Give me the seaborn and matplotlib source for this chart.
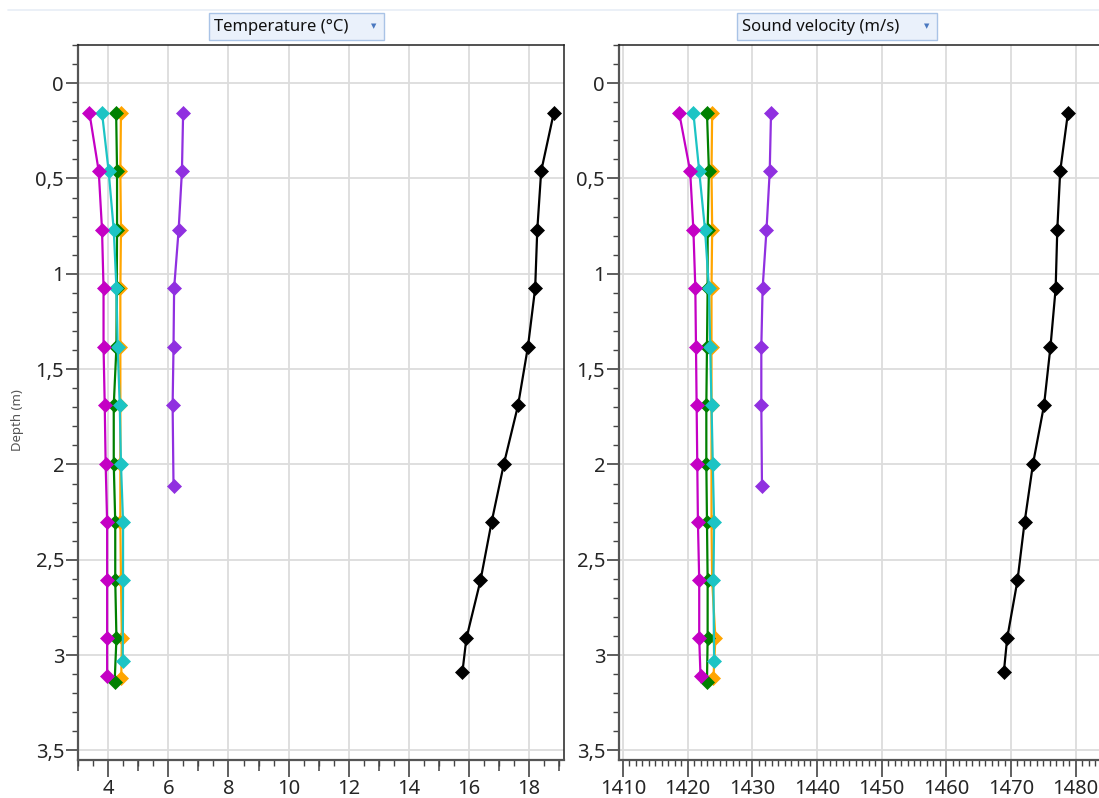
import numpy as np
import pandas as pd
import seaborn as sns
import matplotlib
matplotlib.use("Agg")
import matplotlib.pyplot as plt
from matplotlib.ticker import MultipleLocator, FixedLocator, FuncFormatter
from matplotlib.patches import Rectangle
from matplotlib.lines import Line2D

# ---- profile data -------------------------------------------------------
depth_std = [0.156, 0.462, 0.770, 1.076, 1.382, 1.690, 1.996, 2.302, 2.608, 2.912]

series_names = ["Profile E", "Profile D", "Profile C", "Profile B", "Profile A", "Profile F"]
series_colors = ["#ffa500", "#008000", "#1cc4c4", "#c400c4", "#9030e0", "#000000"]

depth_a = [0.156, 0.462, 0.770, 1.076, 1.382, 1.690, 2.114]
temp_a = [6.49, 6.45, 6.34, 6.19, 6.17, 6.14, 6.17]
sv_a = [1432.9, 1432.7, 1432.2, 1431.6, 1431.4, 1431.4, 1431.5]

depth_b = depth_std + [3.11]
temp_b = [3.37, 3.68, 3.79, 3.84, 3.84, 3.88, 3.91, 3.96, 3.96, 3.96, 3.96]
sv_b = [1418.7, 1420.4, 1420.9, 1421.2, 1421.3, 1421.4, 1421.5, 1421.6, 1421.8, 1421.8, 1422.0]

depth_c = depth_std[:9] + [3.03]
temp_c = [3.79, 4.01, 4.18, 4.27, 4.31, 4.38, 4.42, 4.49, 4.49, 4.48]
sv_c = [1420.9, 1421.8, 1422.7, 1423.3, 1423.5, 1423.7, 1423.9, 1424.1, 1424.0, 1424.1]

depth_d = depth_std + [3.14]
temp_d = [4.26, 4.29, 4.29, 4.28, 4.27, 4.18, 4.18, 4.23, 4.23, 4.27, 4.21]
sv_d = [1423.0, 1423.3, 1423.1, 1423.1, 1423.0, 1422.9, 1422.9, 1423.0, 1423.1, 1423.1, 1423.0]

depth_e = depth_std + [3.12]
temp_e = [4.42, 4.40, 4.42, 4.40, 4.40, 4.40, 4.40, 4.40, 4.42, 4.45, 4.43]
sv_e = [1423.8, 1423.7, 1423.8, 1423.7, 1423.7, 1423.7, 1423.7, 1423.7, 1423.8, 1424.3, 1424.0]

depth_f = depth_std + [3.086]
temp_f = [18.83, 18.41, 18.28, 18.21, 17.97, 17.64, 17.17, 16.76, 16.39, 15.92, 15.79]
sv_f = [1478.8, 1477.6, 1477.15, 1476.9, 1476.1, 1475.1, 1473.4, 1472.1, 1471.0, 1469.4, 1468.9]

# ---- long-form table ----------------------------------------------------
frames = []
for name, d, t, s in [
    ("Profile E", depth_e, temp_e, sv_e),
    ("Profile D", depth_d, temp_d, sv_d),
    ("Profile C", depth_c, temp_c, sv_c),
    ("Profile B", depth_b, temp_b, sv_b),
    ("Profile A", depth_a, temp_a, sv_a),
    ("Profile F", depth_f, temp_f, sv_f),
]:
    frames.append(pd.DataFrame({"profile": name, "depth": d, "temp": t, "sv": s}))
df = pd.concat(frames, ignore_index=True)

palette = dict(zip(series_names, series_colors))

sns.set_theme(style="white")
FONT = ["Noto Sans", "DejaVu Sans"]
plt.rcParams["font.family"] = FONT

W, H = 1099, 798
fig = plt.figure(figsize=(W / 100, H / 100), dpi=100)


def fx(px):
    return px / W


def fy(py):
    return 1 - py / H


ax1 = fig.add_axes([fx(78), fy(760), fx(564 - 78), (760 - 45) / H])
ax2 = fig.add_axes([fx(619), fy(760), fx(1099 - 619), (760 - 45) / H])


def depth_fmt(v, pos):
    s = f"{v:.1f}"
    if s.endswith(".0"):
        s = s[:-2]
    if s == "-0":
        s = "0"
    return s.replace(".", ",")


for ax, col in [(ax1, "temp"), (ax2, "sv")]:
    sns.lineplot(data=df, x=col, y="depth", hue="profile", hue_order=series_names,
                 palette=palette, sort=False, estimator=None, units="profile",
                 marker="D", markersize=7.4, linewidth=1.6, legend=False, ax=ax)
    for ln in ax.lines:
        ln.set_markeredgecolor(ln.get_color())
        ln.set_markeredgewidth(0.5)
    ax.set_ylim(3.55, -0.2)
    ax.set_xlabel("")
    ax.set_ylabel("")
    ax.yaxis.set_major_locator(MultipleLocator(0.5))
    ax.yaxis.set_minor_locator(MultipleLocator(0.1))
    ax.yaxis.set_major_formatter(FuncFormatter(depth_fmt))
    ax.grid(True, which="major", color="#dcdcdc", linewidth=1.3)
    ax.set_axisbelow(True)
    ax.tick_params(axis="y", which="major", direction="out", length=9, width=1.2,
                   color="#444444", labelsize=14.5, pad=1, left=True)
    ax.tick_params(axis="y", which="minor", direction="out", length=4, width=1.0,
                   color="#444444", left=True)
    ax.tick_params(axis="x", which="major", direction="out", length=12, width=1.2,
                   color="#444444", labelsize=14.5, pad=2, bottom=True)
    ax.tick_params(axis="x", which="minor", direction="out", length=4, width=1.0,
                   color="#444444", bottom=True)
    for side in ["left", "bottom"]:
        ax.spines[side].set_color("#555555")
        ax.spines[side].set_linewidth(1.6)
    for side in ["top", "right"]:
        ax.spines[side].set_color("#222222")
        ax.spines[side].set_linewidth(1.1)

ax2.spines["right"].set_visible(False)

# temperature axis
ax1.set_xlim(2.99, 19.17)
ax1.xaxis.set_major_locator(FixedLocator(np.arange(4, 19, 2)))
ax1.xaxis.set_minor_locator(MultipleLocator(0.5))
ax1.xaxis.set_major_formatter(FuncFormatter(lambda v, p: f"{v:.0f}"))
odd = ax1.secondary_xaxis("bottom")
odd.set_xticks(np.arange(3, 20, 2))
odd.set_xticklabels([])
odd.tick_params(axis="x", length=8, width=1.1, color="#444444", direction="out")
odd.spines["bottom"].set_visible(False)

# sound velocity axis
ax2.set_xlim(1409.4, 1483.6)
ax2.xaxis.set_major_locator(MultipleLocator(10))
ax2.xaxis.set_minor_locator(MultipleLocator(1))
ax2.xaxis.set_major_formatter(FuncFormatter(lambda v, p: f"{v:.0f}"))

fig.text(fx(18), fy(420), "Depth (m)", rotation=90, ha="center", va="center",
         fontsize=9.5, color="#555555")

# header selectors
fig.add_artist(Line2D([fx(8), 1], [fy(10), fy(10)], color="#e8eef6", linewidth=1.2))


def selector(x0, x1, label):
    fig.add_artist(Rectangle((fx(x0), fy(40)), fx(x1 - x0), (40 - 13) / H,
                             facecolor="#eaf1fb", edgecolor="#a9c3e6", linewidth=1.0,
                             transform=fig.transFigure))
    fig.text(fx(x0 + 5), fy(27), label, ha="left", va="center", fontsize=12,
             color="#111111")
    fig.text(fx(x1 - 10), fy(26), "\u25BC", ha="center", va="center", fontsize=5,
             color="#4a78c0", family="DejaVu Sans")


selector(209, 384, "Temperature (°C)")
selector(737, 937, "Sound velocity (m/s)")

fig.savefig("out.png", dpi=100)
